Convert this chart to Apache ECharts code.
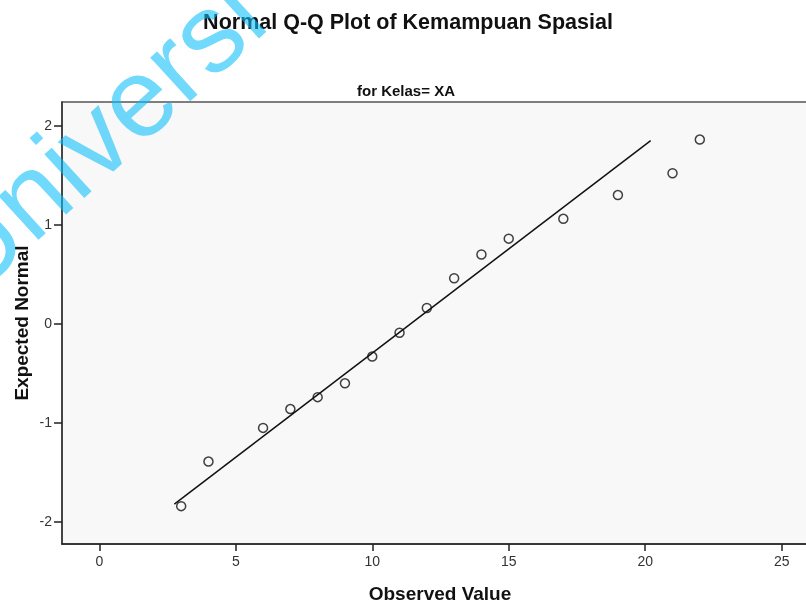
<!DOCTYPE html>
<html>
<head>
<meta charset="utf-8">
<script src="https://cdn.jsdelivr.net/npm/echarts@6/dist/echarts.min.js"></script>
<style>
  html, body { margin: 0; padding: 0; background: #fff; }
  #chart { width: 806px; height: 604px; }
</style>
</head>
<body>
<div id="chart"></div>
<script>
// observed values and their expected normal scores
const observed = [3, 4, 6, 7, 8, 9, 10, 11, 12, 13, 14, 15, 17, 19, 21, 22]
const expected = [-1.84, -1.39, -1.05, -0.86, -0.74, -0.60, -0.33, -0.09, 0.16, 0.46, 0.70, 0.86, 1.06, 1.30, 1.52, 1.86]

// reference line end points
const lineX = [2.75, 20.2]
const lineY = [-1.82, 1.85]

// tick labels
const xTicks = [0, 5, 10, 15, 20, 25]
const yTicks = [-2, -1, 0, 1, 2]

const font = '"Liberation Sans", Arial, sans-serif'

const myChart = echarts.init(document.getElementById('chart'))

const option = {
    backgroundColor: '#fff',
    animation: false,
    grid: {
        left: 62,
        right: -12,
        top: 102,
        bottom: 60,
        outerBoundsMode: 'none',
        containLabel: false,
        show: true,
        backgroundColor: '#f8f8f8',
        borderColor: '#555',
        borderWidth: 1.5,
    },
    xAxis: {
        type: 'value',
        min: -1.366,
        max: 26.33,
        name: 'Observed Value',
        nameLocation: 'middle',
        nameGap: 41,
        nameMoveOverlap: false,
        nameTextStyle: { fontFamily: font, fontWeight: 'bold', fontSize: 19, color: '#111' },
        splitLine: { show: false },
        axisLine: { show: true, onZero: false, lineStyle: { color: '#222', width: 1.5 } },
        axisTick: { show: true, inside: false, length: 7, customValues: xTicks, lineStyle: { color: '#222', width: 1.5 } },
        axisLabel: { customValues: xTicks, fontFamily: font, fontSize: 14, color: '#333', margin: 11 },
    },
    yAxis: {
        type: 'value',
        min: -2.222,
        max: 2.239,
        name: 'Expected Normal',
        nameLocation: 'middle',
        nameGap: 30,
        nameMoveOverlap: false,
        nameTextStyle: { fontFamily: font, fontWeight: 'bold', fontSize: 19, color: '#111' },
        splitLine: { show: false },
        axisLine: { show: true, onZero: false, lineStyle: { color: '#333', width: 1.5 } },
        axisTick: { show: true, inside: false, length: 8, customValues: yTicks, lineStyle: { color: '#222', width: 1.5 } },
        axisLabel: { customValues: yTicks, fontFamily: font, fontSize: 14, color: '#333', margin: 10 },
    },
    graphic: [
        {
            type: 'text',
            x: 408,
            y: 23,
            z: 10,
            style: {
                text: 'Normal Q-Q Plot of Kemampuan Spasial',
                fontFamily: font,
                fontSize: 21.5,
                fontWeight: 'bold',
                fill: '#111',
                align: 'center',
                verticalAlign: 'middle',
            }
        },
        {
            type: 'text',
            x: 406,
            y: 92,
            z: 10,
            style: {
                text: 'for Kelas= XA',
                fontFamily: font,
                fontSize: 15,
                fontWeight: 'bold',
                fill: '#111',
                align: 'center',
                verticalAlign: 'middle',
            }
        },
        // watermark
        {
            type: 'text',
            x: -10,
            y: 318,
            rotation: 0.74,
            z: 100,
            style: {
                text: 'Universi',
                fontFamily: font,
                fontSize: 112,
                fill: 'rgba(10,190,250,0.58)',
                align: 'left',
                verticalAlign: 'bottom',
            }
        }
    ],
    series: [
        {
            type: 'line',
            data: lineX.map((x, i) => [x, lineY[i]]),
            symbol: 'none',
            lineStyle: { color: '#111', width: 1.5 },
            z: 2,
        },
        {
            type: 'scatter',
            data: observed.map((x, i) => [x, expected[i]]),
            symbol: 'circle',
            symbolSize: 9,
            itemStyle: { color: 'transparent', borderColor: '#111', borderWidth: 1.5 },
            z: 3,
        }
    ]
}

option && myChart.setOption(option)
</script>
</body>
</html>
